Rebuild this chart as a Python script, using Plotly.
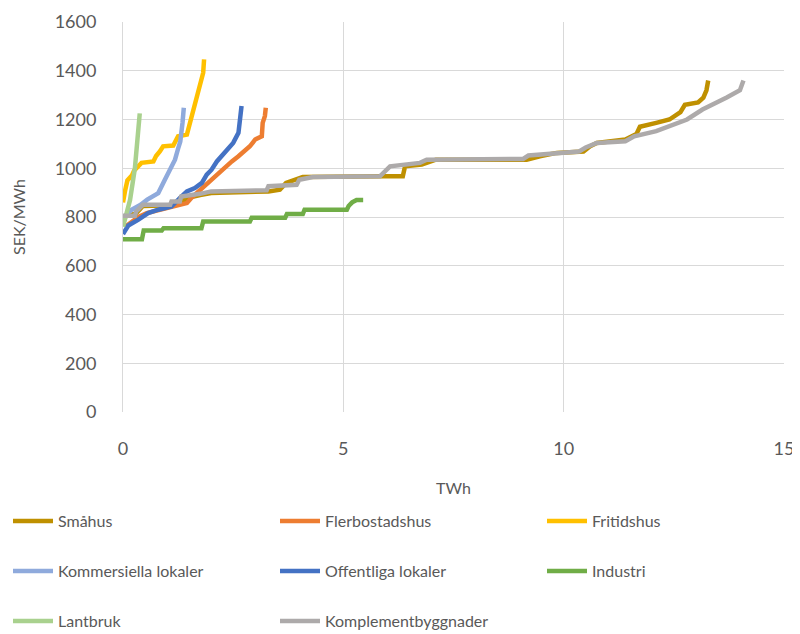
import plotly.graph_objects as go

# ---- data (TWh, SEK/MWh) ----
smahus_x = [0.0, 0.3, 0.45, 1.07, 1.3, 1.5, 1.75, 2.0, 3.3, 3.56, 3.7, 4.08, 5.91, 6.35, 6.4, 6.78, 7.1, 9.16, 9.46, 9.84,
            10.45, 10.6, 10.75, 11.4, 11.65, 11.73, 12.1, 12.4, 12.65, 12.75, 13.05, 13.17, 13.24, 13.28]
smahus_y = [800, 815, 845, 848, 860, 880, 890, 898, 905, 912, 940, 964, 967, 967, 1008, 1015, 1035, 1035, 1049, 1063,
            1069, 1090, 1104, 1118, 1140, 1170, 1186, 1200, 1230, 1260, 1270, 1290, 1320, 1360]

fler_x = [0.05, 0.16, 0.35, 0.54, 0.84, 1.22, 1.45, 1.56, 1.75, 1.9, 2.05, 2.2, 2.35, 2.47, 2.62, 2.77, 2.88, 3.0,
          3.15, 3.17, 3.22, 3.24]
fler_y = [760, 775, 800, 816, 830, 843, 857, 880, 912, 933, 960, 987, 1008, 1028, 1049, 1070, 1090, 1118,
          1131, 1186, 1214, 1248]

frit_x = [0.0, 0.02, 0.05, 0.1, 0.2, 0.25, 0.35, 0.42, 0.69, 0.75, 0.84, 0.91, 1.14, 1.2, 1.25, 1.45, 1.52, 1.63,
          1.75, 1.82, 1.84]
frit_y = [860, 900, 910, 950, 970, 990, 1010, 1022, 1028, 1050, 1070, 1090, 1093, 1110, 1131, 1138, 1186, 1268,
          1337, 1392, 1447]

komm_x = [0.0, 0.1, 0.2, 0.4, 0.55, 0.8, 0.95, 1.1, 1.18, 1.25, 1.3, 1.35, 1.38]
komm_y = [790, 815, 830, 850, 871, 898, 953, 1008, 1035, 1080, 1110, 1186, 1248]

off_x = [0.0, 0.05, 0.12, 0.35, 0.57, 0.8, 1.1, 1.3, 1.45, 1.63, 1.79, 1.9, 2.01, 2.13, 2.24, 2.35, 2.5, 2.62,
         2.65, 2.69]
off_y = [730, 745, 765, 789, 816, 830, 843, 880, 905, 919, 940, 974, 994, 1028, 1049, 1076, 1104, 1145,
         1214, 1255]

ind_x = [0.0, 0.43, 0.47, 0.88, 0.92, 1.78, 1.82, 2.88, 2.92, 3.68, 3.72, 4.08, 4.12, 5.08, 5.12, 5.2, 5.3, 5.45]
ind_y = [709, 709, 745, 745, 754, 754, 782, 782, 797, 797, 812, 812, 830, 830, 845, 860, 870, 870]

lant_x = [0.0, 0.05, 0.16, 0.27, 0.33, 0.38]
lant_y = [760, 800, 870, 1000, 1100, 1225]

komp_x = [0.0, 0.27, 0.3, 0.45, 1.07, 1.1, 1.29, 1.32, 1.75, 2.0, 3.26, 3.3, 3.94, 4.0, 4.31, 5.83, 6.06, 6.74,
          6.89, 9.08, 9.2, 9.46, 9.76, 10.35, 10.5, 10.75, 11.4, 11.6, 12.1, 12.4, 12.8, 13.15, 13.45, 13.7,
          14.0, 14.08]
komp_y = [805, 805, 823, 850, 850, 864, 864, 884, 895, 905, 910, 926, 932, 953, 964, 967, 1008, 1022,
          1035, 1038, 1052, 1055, 1063, 1069, 1085, 1104, 1111, 1131, 1152, 1172, 1200, 1241, 1265, 1290,
          1320, 1360]

names = ["Småhus", "Flerbostadshus", "Fritidshus", "Kommersiella lokaler", "Offentliga lokaler",
         "Industri", "Lantbruk", "Komplementbyggnader"]
xs_all = [smahus_x, fler_x, frit_x, komm_x, off_x, ind_x, lant_x, komp_x]
ys_all = [smahus_y, fler_y, frit_y, komm_y, off_y, ind_y, lant_y, komp_y]
colors = ["#BF9000", "#ED7D31", "#FFC000", "#8FAADC", "#4472C4", "#70AD47", "#A9D18E", "#ADAAAA"]

W, H = 792, 626  # page body has an 8px margin
FONT = "Lato"
TXT = "#595959"
GRID = "#D9D9D9"

fig = go.Figure()
layout_legends = {}
for i, (name, xs, ys, col) in enumerate(zip(names, xs_all, ys_all, colors)):
    key = "legend" if i == 0 else f"legend{i + 1}"
    fig.add_trace(go.Scatter(x=xs, y=ys, mode="lines", name=name, legend=key,
                             line=dict(color=col, width=4.5)))
    row, colm = divmod(i, 3)
    layout_legends[key] = dict(
        orientation="h", xref="container", yref="container",
        x=(colm * 267) / W, xanchor="left",
        y=1 - (513 + row * 50) / H, yanchor="middle",
        font=dict(family=FONT, size=16, color=TXT), bgcolor="rgba(0,0,0,0)",
        itemwidth=40)

fig.update_layout(
    width=W, height=H,
    margin=dict(l=115, r=16, t=14, b=222),
    paper_bgcolor="white", plot_bgcolor="white",
    font=dict(family=FONT, color=TXT),
    showlegend=True,
    xaxis=dict(range=[0, 15], tickvals=[0, 5, 10, 15], showgrid=True, gridcolor=GRID, gridwidth=1,
               zeroline=False, showline=False, ticks="", tickfont=dict(family=FONT, size=18, color=TXT),
               ticklabelstandoff=24, automargin=False,
               title=dict(text="TWh", font=dict(family=FONT, size=16, color=TXT), standoff=24)),
    yaxis=dict(range=[0, 1600], tickvals=list(range(0, 1601, 200)), showgrid=True, gridcolor=GRID,
               gridwidth=1, zeroline=False, showline=True, linecolor=GRID, linewidth=1, ticks="",
               tickfont=dict(family=FONT, size=18, color=TXT), ticklabelstandoff=22, automargin=False,
               title=dict(text="SEK/MWh", font=dict(family=FONT, size=16, color=TXT), standoff=25)),
    **layout_legends,
)

fig.write_html("out.html")
